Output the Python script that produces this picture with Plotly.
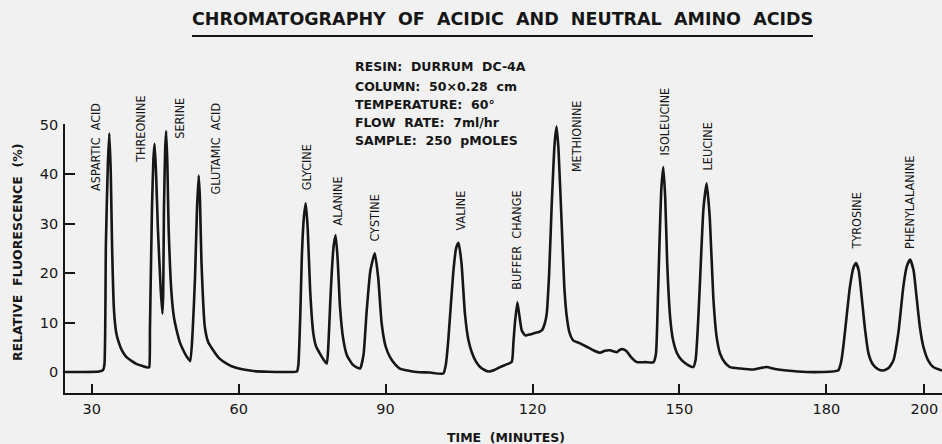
import plotly.graph_objects as go

# ---------------- data ----------------
time_min = [
    24.6, 28.0, 31.5, 32.3, 32.6, 32.9, 33.3, 33.6, 33.9, 34.15, 34.55, 35.0, 35.4, 36.2, 37.1,
    38.2, 39.2, 40.4, 41.55, 41.75, 41.9, 42.3, 42.6, 42.85, 43.15, 43.5, 44.1, 44.45, 44.6,
    44.75, 45.0, 45.2, 45.45, 45.7, 46.3, 46.8, 47.35, 48.0, 48.7, 49.4, 50.1, 50.6, 51.1,
    51.5, 51.85, 52.1, 52.4, 53.1, 53.8, 54.8, 56.0, 57.55, 59.0, 61.0, 63.0, 66.0, 70.0,
    71.9, 72.2, 72.6, 72.9, 73.3, 73.7, 74.1, 74.6, 75.25, 75.8, 76.6, 77.4, 78.0, 78.3,
    78.7, 79.0, 79.4, 79.8, 80.2, 80.7, 81.3, 82.1, 83.2, 84.2, 84.8, 85.5, 86.1, 86.9,
    87.8, 88.5, 89.2, 90.0, 90.9, 92.0, 92.9, 94.5, 96.35, 99.0, 101.8, 102.3, 102.8,
    103.8, 104.4, 104.9, 105.5, 106.2, 106.9, 107.6, 108.4, 109.3, 110.2, 111.0, 112.2,
    113.4, 114.6, 115.75, 116.1, 116.4, 116.9, 117.3, 117.8, 118.5, 119.5, 120.5, 121.3,
    121.9, 122.5, 122.9, 123.4, 123.9, 124.5, 124.9, 125.3, 125.95, 126.5, 127.0, 127.6,
    128.3, 129.7, 131.05, 132.4, 133.8, 134.8, 135.8, 136.5, 137.2, 137.85, 138.5, 139.2,
    140.1, 141.3, 143.0, 144.7, 145.2, 145.6, 145.9, 146.3, 146.7, 147.1, 147.5, 148.1,
    148.7, 149.5, 150.45, 151.6, 152.8, 153.3, 153.8, 154.2, 154.9, 155.55, 156.2, 156.9,
    157.6, 158.3, 159.2, 160.3, 162.5, 165.1, 166.5, 167.8, 169.5, 171.9, 176.0, 179.0,
    182.4, 183.0, 183.45, 184.1, 184.8, 185.5, 186.05, 186.6, 187.2, 187.9, 188.6, 189.5,
    190.5, 191.6, 192.7, 193.7, 194.7, 195.7, 196.4, 197.1, 197.8, 198.4, 199.1, 199.8,
    200.8, 201.8, 203.6,
]
fluorescence = [
    0.0, 0.0, 0.1, 0.4, 1.5, 25.9, 42.0, 48.2, 40.0, 25.9, 12.5, 8.0, 6.4, 4.3, 3.0,
    2.2, 1.6, 1.2, 0.9, 1.0, 9.1, 32.7, 43.0, 46.1, 40.0, 29.3, 16.5, 11.8, 16.0,
    32.7, 45.0, 48.7, 42.0, 29.3, 15.8, 11.0, 8.4, 6.0, 4.4, 3.1, 2.2, 8.0, 19.2,
    33.0, 39.7, 35.0, 22.6, 9.1, 6.0, 4.4, 2.8, 1.7, 1.0, 0.5, 0.2, 0.05, 0.0,
    0.1, 1.5, 12.0, 23.2, 31.0, 34.1, 29.0, 16.5, 7.8, 5.2, 3.7, 2.4, 1.7, 5.0,
    14.0, 19.9, 25.5, 27.6, 23.0, 13.1, 7.0, 3.4, 1.6, 0.9, 0.7, 3.5, 11.8, 20.5,
    24.0, 19.0, 9.8, 5.2, 3.0, 1.5, 0.7, 0.3, 0.0, -0.1, -0.3, 1.5, 6.4,
    19.9, 25.0, 26.1, 22.0, 11.8, 6.5, 4.0, 2.2, 1.0, 0.4, 0.1, 0.4,
    1.0, 1.5, 2.0, 6.0, 9.8, 14.1, 11.5, 8.4, 7.4, 7.6, 7.9, 8.1,
    8.4, 9.8, 11.8, 20.0, 33.3, 46.0, 49.6, 45.0, 30.0, 17.0, 11.1, 7.8,
    6.4, 5.8, 5.1, 4.4, 3.9, 4.3, 4.4, 4.2, 4.0, 4.5, 4.6, 4.2,
    3.0, 2.0, 2.0, 2.0, 3.7, 15.0, 25.3, 37.0, 41.4, 35.0, 21.9, 11.0,
    6.4, 3.8, 2.4, 1.5, 1.0, 2.5, 10.0, 18.5, 33.0, 38.1, 31.0, 15.2,
    7.0, 3.7, 2.0, 1.0, 0.7, 0.5, 0.8, 1.0, 0.6, 0.3, 0.0, 0.0,
    0.3, 2.0, 5.1, 11.0, 17.2, 21.0, 22.0, 20.5, 15.2, 8.5, 3.7, 1.5,
    0.6, 0.3, 0.8, 2.4, 8.0, 17.2, 21.3, 22.7, 20.5, 15.2, 9.0, 5.1,
    2.3, 1.0, 0.3,
]

peak_names = ["ASPARTIC  ACID", "THREONINE", "SERINE", "GLUTAMIC  ACID", "GLYCINE",
              "ALANINE", "CYSTINE", "VALINE", "BUFFER  CHANGE", "METHIONINE",
              "ISOLEUCINE", "LEUCINE", "TYROSINE", "PHENYLALANINE"]

x_ticks = [30, 60, 90, 120, 150, 180, 200]
y_ticks = [0, 10, 20, 30, 40, 50]

info_lines = ["RESIN:  DURRUM  DC-4A", "COLUMN:  50×0.28  cm", "TEMPERATURE:  60°",
              "FLOW  RATE:  7ml/hr", "SAMPLE:  250  pMOLES"]

title_text = "CHROMATOGRAPHY  OF  ACIDIC  AND  NEUTRAL  AMINO  ACIDS"

# ---------------- layout (positions / styles) ----------------
label_pos = [(30.8, 36.1), (39.9, 41.8), (48.0, 46.8), (55.2, 35.5), (73.75, 36.3),
             (80.2, 29.2), (87.8, 26.0), (105.2, 28.2), (116.8, 16.3), (128.9, 40.0),
             (146.9, 43.4), (155.7, 40.4), (186.2, 24.4), (197.1, 24.4)]
info_y = [1.212, 1.141, 1.074, 1.007, 0.937]

INK = "#161616"
BG = "#f1f1f1"
MAIN_FONT = "DejaVu Sans, Open Sans, sans-serif"
NARROW_FONT = "DejaVu Sans Condensed, Liberation Sans Narrow, DejaVu Sans, sans-serif"


def nb(s):
    return s.replace(" ", "\u00a0")


fig = go.Figure()
fig.add_trace(go.Scatter(
    x=time_min, y=fluorescence, mode="lines",
    line=dict(color=INK, width=2.6, shape="spline", smoothing=0.5),
    hoverinfo="skip", showlegend=False,
))

annotations = []
for name, (lx, ly) in zip(peak_names, label_pos):
    annotations.append(dict(
        x=lx, y=ly, xref="x", yref="y", text=nb(name), textangle=-90,
        xanchor="center", yanchor="bottom", showarrow=False,
        font=dict(family=NARROW_FONT, size=12.5, color=INK),
    ))
for line, iy in zip(info_lines, info_y):
    annotations.append(dict(
        x=0.3284, y=iy, xref="paper", yref="paper", text=nb(line),
        xanchor="left", yanchor="middle", showarrow=False,
        font=dict(family=MAIN_FONT, size=12.5, color=INK, weight="bold"),
    ))
annotations.append(dict(
    x=0.4989, y=1.392, xref="paper", yref="paper", text=nb(title_text),
    xanchor="center", yanchor="middle", showarrow=False,
    font=dict(family=MAIN_FONT, size=17.5, color=INK, weight="bold"),
))
annotations.append(dict(
    x=-0.0542, y=0.522, xref="paper", yref="paper", text=nb("RELATIVE  FLUORESCENCE  (%)"),
    textangle=-90, xanchor="center", yanchor="middle", showarrow=False,
    font=dict(family=MAIN_FONT, size=12.5, color=INK, weight="bold"),
))
annotations.append(dict(
    x=0.503, y=-0.167, xref="paper", yref="paper", text=nb("TIME  (MINUTES)"),
    xanchor="center", yanchor="middle", showarrow=False,
    font=dict(family=MAIN_FONT, size=12.5, color=INK, weight="bold"),
))

fig.update_layout(
    width=942, height=444,
    margin=dict(l=65, r=0, t=124, b=51),
    paper_bgcolor=BG, plot_bgcolor=BG,
    annotations=annotations,
    shapes=[dict(type="line", xref="paper", yref="paper",
                 x0=0.1448, x1=0.8529, y0=1.327, y1=1.327,
                 line=dict(color=INK, width=2))],
    font=dict(family=MAIN_FONT, color=INK),
)
fig.update_xaxes(
    range=[24.55, 203.6], tickvals=x_ticks, ticktext=[str(v) for v in x_ticks],
    showline=True, linecolor=INK, linewidth=1.6, ticks="inside", ticklen=9,
    tickwidth=1.6, tickcolor=INK, showgrid=False, zeroline=False,
    tickfont=dict(family=MAIN_FONT, size=14.5, color=INK), ticklabelstandoff=2,
)
fig.update_yaxes(
    range=[-4.24, 50.1], tickvals=y_ticks,
    showline=True, linecolor=INK, linewidth=1.6, ticks="inside", ticklen=10,
    tickwidth=1.6, tickcolor=INK, showgrid=False, zeroline=False,
    tickfont=dict(family=MAIN_FONT, size=14.5, color=INK), ticklabelstandoff=2,
)

fig.write_html(
    "out.html",
    config={"displayModeBar": False},
    post_script="document.body.style.margin='0';document.body.style.overflow='hidden';"
                "document.body.style.background='" + BG + "';",
)
